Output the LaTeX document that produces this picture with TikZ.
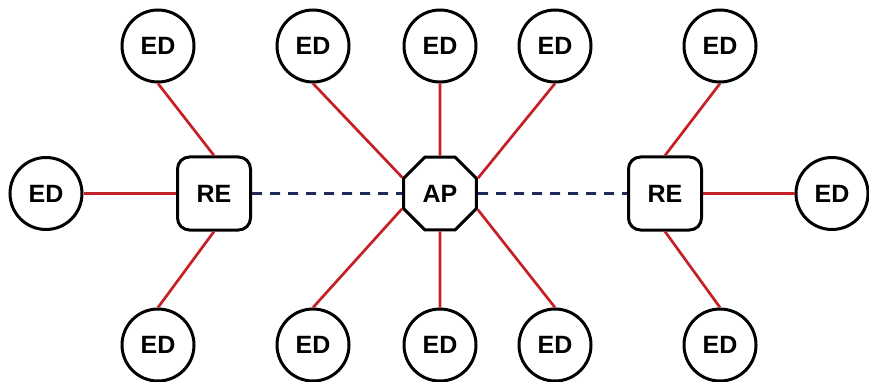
\documentclass[tikz,border=0pt]{standalone}
\usepackage{fontspec}
\setmainfont{Liberation Sans}
\usetikzlibrary{shapes.geometric}
\definecolor{linkred}{HTML}{C42026}
\definecolor{linknavy}{HTML}{1F2A5A}
\begin{document}
\begin{tikzpicture}[x=1pt,y=-1pt,
  every node/.style={font=\fontsize{25}{28}\selectfont\bfseries, line width=3pt, draw=black, fill=white, inner sep=0pt},
  ed/.style={circle, minimum size=72pt},
  re/.style={rectangle, rounded corners=12pt, minimum size=73pt},
  ap/.style={regular polygon, regular polygon sides=8, minimum size=79pt},
  link/.style={draw=linkred, line width=2.7pt},
  bh/.style={draw=linknavy, line width=2.7pt, dash pattern=on 10pt off 8pt}]
\useasboundingbox (0,0) rectangle (869,382);
\node[ap] (ap) at (440,193.5) {AP};
\node[re] (reL) at (214,193.5) {RE};
\node[re] (reR) at (665,193.5) {RE};
% top row
\node[ed] (t1) at (158,46) {ED};
\node[ed] (t2) at (313,46) {ED};
\node[ed] (t3) at (440,46) {ED};
\node[ed] (t4) at (555,46) {ED};
\node[ed] (t5) at (720,46) {ED};
% middle
\node[ed] (mL) at (46,193.5) {ED};
\node[ed] (mR) at (832,193.5) {ED};
% bottom row
\node[ed] (b1) at (158,345) {ED};
\node[ed] (b2) at (313,345) {ED};
\node[ed] (b3) at (440,345) {ED};
\node[ed] (b4) at (555,345) {ED};
\node[ed] (b5) at (720,345) {ED};
\path[link] (t1.south) -- (reL.north);
\path[link] (mL.east) -- (reL.west);
\path[link] (b1.north) -- (reL.south);
\path[link] (t5.south) -- (reR.north);
\path[link] (mR.west) -- (reR.east);
\path[link] (b5.north) -- (reR.south);
\path[link] (t2.south) -- (ap.157.5);
\path[link] (t3.south) -- (ap.north);
\path[link] (t4.south) -- (ap.22.5);
\path[link] (b2.north) -- (ap.202.5);
\path[link] (b3.north) -- (ap.south);
\path[link] (b4.north) -- (ap.337.5);
\path[bh] (reL.east) -- (ap.west);
\path[bh] (ap.east) -- (reR.west);
\end{tikzpicture}
\end{document}
